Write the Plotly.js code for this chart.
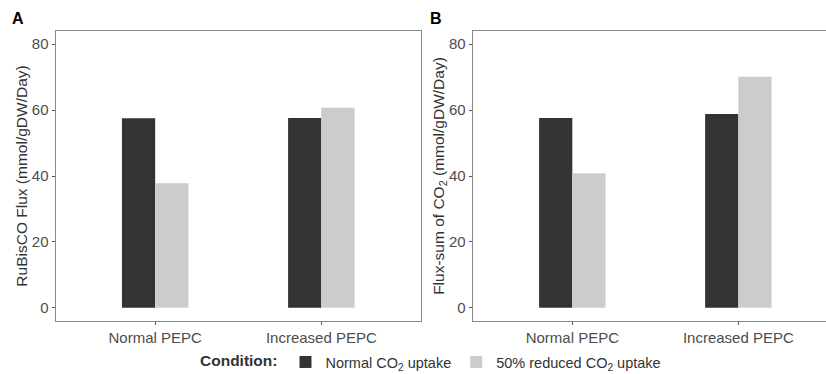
<!DOCTYPE html>
<html>
<head>
<meta charset="utf-8">
<script src="https://cdn.plot.ly/plotly-3.0.1.min.js"></script>
<style>html,body{margin:0;padding:0;background:#fff;}#chart{width:826px;height:374px;}</style>
</head>
<body>
<div id="chart"></div>
<script>
// Data
const categories = ["Normal PEPC", "Increased PEPC"];
const seriesNames = ["Normal CO<sub>2</sub> uptake", "50% reduced CO<sub>2</sub> uptake"];
const rubiscoNormal = [57.5, 57.6];
const rubiscoReduced = [37.8, 60.7];
const fluxsumNormal = [57.6, 58.8];
const fluxsumReduced = [40.8, 70.1];
const yTicks = [0, 20, 40, 60, 80];

const darkFill = "#333333";
const lightFill = "#cccccc";
const font = "Liberation Sans, Arial, sans-serif";

function bar(y, name, color, xa, ya, show) {
  return {
    type: "bar", x: categories, y: y, name: name,
    marker: {color: color, line: {width: 0}},
    xaxis: xa, yaxis: ya, legendgroup: name, showlegend: show,
    hoverinfo: "x+y"
  };
}

const data = [
  bar(rubiscoNormal, seriesNames[0], darkFill, "x", "y", true),
  bar(rubiscoReduced, seriesNames[1], lightFill, "x", "y", true),
  bar(fluxsumNormal, seriesNames[0], darkFill, "x2", "y2", false),
  bar(fluxsumReduced, seriesNames[1], lightFill, "x2", "y2", false)
];

const yDom = [53/374, 343/374];
function yax(title, anchor) {
  return {
    domain: yDom, anchor: anchor, range: [-4, 84], tickvals: yTicks,
    showgrid: false, zeroline: false, ticks: "outside", ticklen: 3, tickcolor: "#555",
    showline: true, linecolor: "#8a8a8a", linewidth: 1, mirror: true,
    tickfont: {family: font, size: 15, color: "#4d4d4d"},
    title: {text: title, font: {family: font, size: 15.5, color: "#333"}, standoff: 0},
    automargin: false,
    fixedrange: true
  };
}
function xax(dom, range, anchor) {
  return {
    domain: dom, anchor: anchor, type: "category", range: range,
    showgrid: false, zeroline: false, ticks: "outside", ticklen: 3, tickcolor: "#555",
    showline: true, linecolor: "#8a8a8a", linewidth: 1, mirror: true,
    tickfont: {family: font, size: 15, color: "#4d4d4d"},
    automargin: false,
    fixedrange: true
  };
}

const layout = {
  width: 826, height: 374,
  margin: {l: 0, r: 0, t: 0, b: 0, autoexpand: false},
  paper_bgcolor: "#fff", plot_bgcolor: "#fff",
  barmode: "group", bargap: 0.6, bargroupgap: 0,
  font: {family: font, color: "#333"},
  xaxis: xax([55.5/826, 421/826], [-0.6, 1.6], "y"),
  yaxis: yax("RuBisCO Flux (mmol/gDW/Day)", "x"),
  xaxis2: xax([472.7/826, 1], [-0.6, 1.528], "y2"),
  yaxis2: yax("Flux-sum of CO<sub>2</sub> (mmol/gDW/Day)", "x2"),
  showlegend: true,
  legend: {
    orientation: "h", x: 0.523, xanchor: "center", y: 0.032, yanchor: "middle",
    title: {text: "<b>Condition:</b>", font: {family: font, size: 15.5, color: "#333"}},
    font: {family: font, size: 14.5, color: "#333"},
    itemwidth: 30, traceorder: "normal", bgcolor: "rgba(0,0,0,0)"
  },
  annotations: [
    {text: "<b>A</b>", xref: "paper", yref: "paper", x: 18/826, y: 1 - 19/374, xanchor: "center", yanchor: "middle", showarrow: false, font: {family: font, size: 16, color: "#000"}},
    {text: "<b>B</b>", xref: "paper", yref: "paper", x: 436/826, y: 1 - 19/374, xanchor: "center", yanchor: "middle", showarrow: false, font: {family: font, size: 16, color: "#000"}}
  ]
};

Plotly.newPlot("chart", data, layout, {displayModeBar: false, staticPlot: true});
</script>
</body>
</html>
